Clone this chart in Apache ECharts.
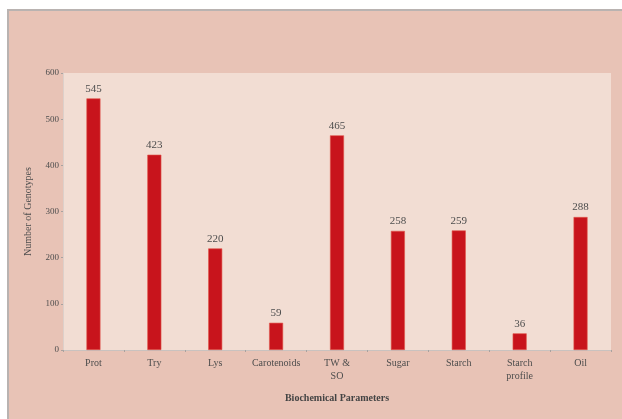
<!DOCTYPE html>
<html>
<head>
<meta charset="utf-8">
<script src="https://cdn.jsdelivr.net/npm/echarts@6/dist/echarts.min.js"></script>
<style>
  html, body { margin: 0; padding: 0; background: #ffffff; }
  #panel {
    position: absolute; left: 7px; top: 9px; width: 615px; height: 410px;
    background: #e8c3b6; border-top: 2px solid #b9b3b1; border-left: 2px solid #b9b3b1;
    box-sizing: border-box;
  }
  #chart { position: absolute; left: 0; top: 0; width: 622px; height: 419px; }
</style>
</head>
<body>
<div id="panel"></div>
<div id="chart"></div>
<script>
// Number of genotypes screened for each biochemical parameter
const categories = ['Prot', 'Try', 'Lys', 'Carotenoids', 'TW &\nSO', 'Sugar', 'Starch', 'Starch\nprofile', 'Oil'];
const genotypes = [545, 423, 220, 59, 465, 258, 259, 36, 288];
const yTicks = [0, 100, 200, 300, 400, 500, 600];

const font = 'Liberation Serif';
const chart = echarts.init(document.getElementById('chart'), null, { renderer: 'canvas' });

chart.setOption({
  backgroundColor: 'transparent',
  animation: false,
  grid: {
    left: 63, right: 11, top: 73, bottom: 69,
    show: true, backgroundColor: '#f2ddd3', borderWidth: 0
  },
  xAxis: {
    type: 'category',
    data: categories,
    name: 'Biochemical Parameters',
    nameLocation: 'middle',
    nameGap: 43,
    nameTextStyle: { fontFamily: font, fontSize: 10, fontWeight: 'bold', color: '#444' },
    axisLine: { lineStyle: { color: '#c9c2bf', width: 1 } },
    axisTick: { show: true, length: 2, lineStyle: { color: '#a9a29f' } },
    axisLabel: { fontFamily: font, fontSize: 10, color: '#4d4d4d', margin: 7, lineHeight: 13, interval: 0 }
  },
  yAxis: {
    type: 'value',
    min: yTicks[0],
    max: yTicks[yTicks.length - 1],
    interval: 100,
    name: 'Number of Genotypes',
    nameLocation: 'middle',
    nameGap: 30,
    nameRotate: 90,
    nameTextStyle: { fontFamily: font, fontSize: 10, color: '#4d4d4d' },
    axisLine: { show: true, lineStyle: { color: '#ddd0ca' } },
    axisTick: { show: true, length: 2, lineStyle: { color: '#a9a29f' } },
    axisLabel: { fontFamily: font, fontSize: 9, color: '#4d4d4d', margin: 4 },
    splitLine: { show: false }
  },
  series: [{
    type: 'bar',
    data: genotypes,
    barWidth: 14,
    itemStyle: { color: '#c8141c', borderColor: '#e0564a', borderWidth: 0.6 },
    label: {
      show: true, position: 'top', distance: 4,
      fontFamily: font, fontSize: 11, color: '#4d4d4d'
    }
  }]
});
</script>
</body>
</html>
